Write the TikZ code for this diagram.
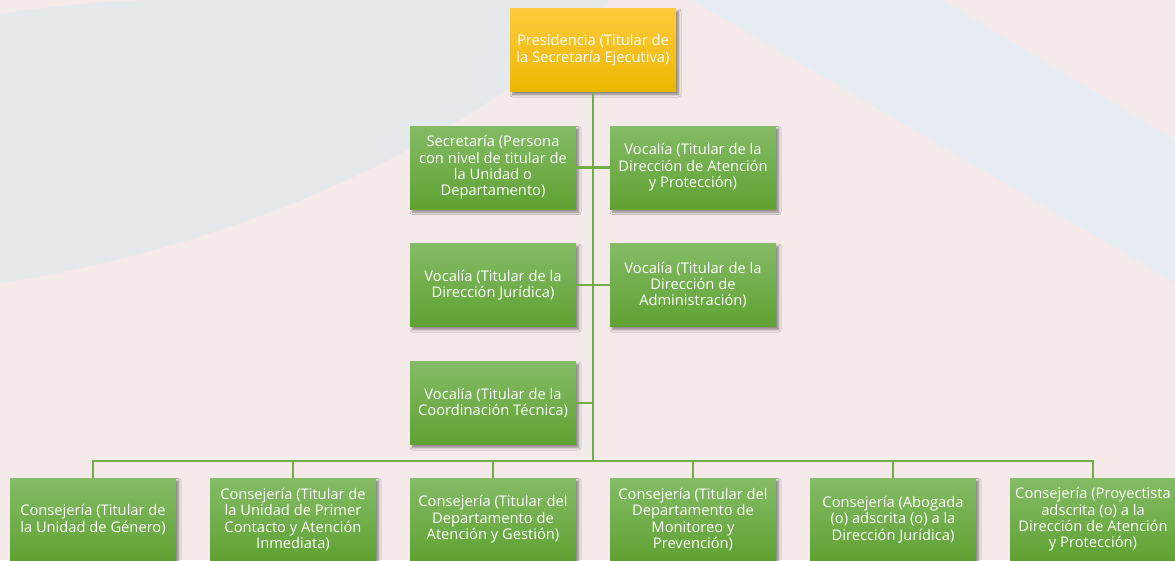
\documentclass[tikz,border=0pt]{standalone}
\usepackage{fontspec}
\setmainfont{Open Sans}
\usetikzlibrary{shadows.blur}
\definecolor{bgpink}{HTML}{F5EAEA}
\definecolor{bggray}{HTML}{E6E9EC}
\definecolor{bgblue}{HTML}{E7EBF2}
\definecolor{gtop}{HTML}{84BB66}
\definecolor{gbot}{HTML}{5FA232}
\definecolor{ytop}{HTML}{FFCA3E}
\definecolor{ybot}{HTML}{ECB700}
\definecolor{lin}{HTML}{70AD47}
\newcommand{\boxfont}{\fontsize{14.7}{16.4}\selectfont}
\tikzset{
  orgbox/.style={rectangle, minimum width=166pt, minimum height=83pt, inner sep=1pt,
    align=center, text=white, font=\boxfont,
    blur shadow={shadow xshift=2.5pt, shadow yshift=-3pt, shadow blur steps=6,
      shadow blur radius=2.5pt, shadow opacity=45}},
  greenbox/.style={orgbox, top color=gtop, bottom color=gbot},
  goldbox/.style={orgbox, top color=ytop, bottom color=ybot},
  conn/.style={draw=lin, line width=2.8pt}
}
\begin{document}
\begin{tikzpicture}[x=1pt, y=-1pt]
\useasboundingbox (0,0) rectangle (1175,560);
% background
\fill[bgpink] (0,0) rectangle (1175,560);
\fill[bggray] (0,14) .. controls (50,6) and (110,0) .. (170,0) -- (610,0)
  .. controls (470,150) and (220,250) .. (0,283) -- cycle;
\fill[bgblue] (692,0) -- (942,0) -- (1175,140) -- (1175,283) -- cycle;
% nodes
\node[goldbox] (pres) at (593,50) {Presidencia (Titular de\\la Secretaría Ejecutiva)};
\node[greenbox] (sec) at (493,167.5) {Secretaría (Persona\\con nivel de titular de\\la Unidad o\\Departamento)};
\node[greenbox] (vap) at (693,167.5) {Vocalía (Titular de la\\Dirección de Atención\\y Protección)};
\node[greenbox] (vdj) at (493,285) {Vocalía (Titular de la\\Dirección Jurídica)};
\node[greenbox] (vda) at (693,285) {Vocalía (Titular de la\\Dirección de\\Administración)};
\node[greenbox] (vct) at (493,403) {Vocalía (Titular de la\\Coordinación Técnica)};
\coordinate (bus) at (593,461);
\coordinate (row3) at (593,403);
\node[greenbox] (c1) at (93,519.5) {Consejería (Titular de\\la Unidad de Género)};
\node[greenbox] (c2) at (293,519.5) {Consejería (Titular de\\la Unidad de Primer\\Contacto y Atención\\Inmediata)};
\node[greenbox] (c3) at (493,519.5) {Consejería (Titular del\\Departamento de\\Atención y Gestión)};
\node[greenbox] (c4) at (693,519.5) {Consejería (Titular del\\Departamento de\\Monitoreo y\\Prevención)};
\node[greenbox] (c5) at (893,519.5) {Consejería (Abogada\\(o) adscrita (o) a la\\Dirección Jurídica)};
\node[greenbox] (c6) at (1093,519.5) {Consejería (Proyectista\\adscrita (o) a la\\Dirección de Atención\\y Protección)};
% connectors
\draw[conn] (pres.south) -- (bus);
\draw[conn] (sec.east) -- (vap.west);
\draw[conn] (vdj.east) -- (vda.west);
\draw[conn] (vct.east) -- (row3);
\draw[conn, line cap=rect] (c1.north |- bus) -- (c6.north |- bus);
\foreach \n in {c1,c2,c3,c4,c5,c6} {\draw[conn] (\n.north) -- (\n.north |- bus);}
\end{tikzpicture}
\end{document}
